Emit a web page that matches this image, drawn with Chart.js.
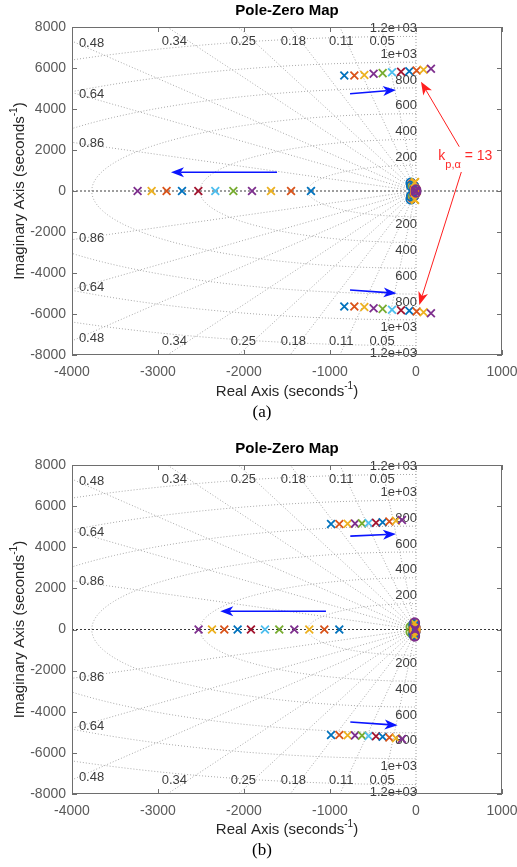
<!DOCTYPE html>
<html lang="en">
<head>
  <meta charset="UTF-8">
  <title>Pole-Zero Map</title>
  <script src="https://cdn.jsdelivr.net/npm/chart.js"></script>
  <style>
    body {
      margin: 0;
      background: #fff;
      width: 517px;
      height: 867px;
      overflow: hidden;
    }
    .panel {
      position: absolute;
      left: 0;
      width: 517px;
    }
    #panelA { top: 0; height: 438px; }
    #panelB { top: 438px; height: 429px; }
  </style>
</head>
<body>
  <div class="panel" id="panelA"><canvas id="chartA"></canvas></div>
  <div class="panel" id="panelB"><canvas id="chartB"></canvas></div>

  <script>
    // MATLAB default colour order, cycled over the 11 gain steps
    const lineColors = ['#0072BD', '#D95319', '#EDB120', '#7E2F8E', '#77AC30', '#4DBEEE', '#A2142F'];

    const xTicks = [-4000, -3000, -2000, -1000, 0, 1000];
    const yTicks = [-8000, -6000, -4000, -2000, 0, 2000, 4000, 6000, 8000];

    // damping / natural frequency grid
    const dampingValues = [0.05, 0.11, 0.18, 0.25, 0.34, 0.48, 0.64, 0.86];
    const dampingLabelX = [-395, -869, -1426, -2007, -2810, -3920, -3920, -3920];
    const dampingLabelY = [7317, 7317, 7317, 7317, 7317, 7210, 4710, 2335];
    const freqHz = [200, 400, 600, 800, 1000, 1200];
    const freqLabels = ['200', '400', '600', '800', '1e+03', '1.2e+03'];

    // (a) poles per gain step
    const realPoleA = [-1221, -1453, -1686, -1907, -2124, -2334, -2531, -2721, -2900, -3074, -3237];
    const cplxPoleReA = [-834, -717, -601, -493, -388, -279, -174, -78, 7, 88, 174];
    const cplxPoleImA = [5630, 5635, 5660, 5715, 5750, 5795, 5815, 5845, 5880, 5910, 5960];
    const nearPoleReA = [-20, -15, -10, -15, -10, -8, -5, -20, 0, -15, -5];
    const nearPoleImA = [120, 100, 440, 80, 60, 50, 40, 200, 30, 420, 20];
    const nearZeroReA = [-60, -45, -35, -25, -30, -20, -15, -55, -10, -5, 0];
    const nearZeroImA = [400, 330, 280, 230, 180, 150, 120, 250, 100, 80, 60];

    // (b) poles per gain step
    const realPoleB = [-892, -1066, -1241, -1415, -1590, -1756, -1919, -2074, -2229, -2372, -2528];
    const cplxPoleReB = [-988, -892, -795, -709, -628, -551, -465, -388, -310, -233, -163];
    const cplxPoleImB = [5130, 5135, 5140, 5150, 5160, 5175, 5195, 5215, 5250, 5290, 5330];
    const nearPoleReB = [-10, -5, -15, -5, -40, 0, -5, -10, 0, -20, -10];
    const nearPoleImB = [60, 50, 300, 40, 30, 20, 10, 80, 10, 320, 30];
    const nearZeroReB = [-30, -25, -20, -15, -60, -10, -10, -25, -20, -10, -15];
    const nearZeroImB = [250, 200, 180, 300, 120, 100, 80, 220, 60, 40, 330];

    const sansFont = "'Liberation Sans', Arial, sans-serif";

    function buildDatasets(realPole, cRe, cIm, pRe, pIm, zRe, zIm) {
      const sets = [];
      realPole.forEach((rp, i) => {
        const c = lineColors[i % lineColors.length];
        sets.push({
          label: 'poles ' + (i + 1),
          data: [
            { x: rp, y: 0 },
            { x: cRe[i], y: cIm[i] }, { x: cRe[i], y: -cIm[i] },
            { x: pRe[i], y: pIm[i] }, { x: pRe[i], y: -pIm[i] }
          ],
          pointStyle: 'crossRot',
          pointRadius: 5.5,
          pointBorderWidth: 1.8,
          borderColor: c,
          backgroundColor: c,
          order: 100 - 2 * i
        });
        sets.push({
          label: 'zeros ' + (i + 1),
          data: [{ x: zRe[i], y: zIm[i] }, { x: zRe[i], y: -zIm[i] }],
          pointStyle: 'circle',
          pointRadius: 4.5,
          pointBorderWidth: 1.8,
          borderColor: c,
          backgroundColor: 'rgba(0,0,0,0)',
          order: 99 - 2 * i
        });
      });
      return sets;
    }

    function drawArrow(ctx, x0, y0, x1, y1, color, width) {
      const ang = Math.atan2(y1 - y0, x1 - x0);
      const len = 13, half = 5, back = 3.5;
      ctx.save();
      ctx.strokeStyle = color;
      ctx.fillStyle = color;
      ctx.lineWidth = width;
      ctx.beginPath();
      ctx.moveTo(x0, y0);
      ctx.lineTo(x1 - (len - back) * Math.cos(ang), y1 - (len - back) * Math.sin(ang));
      ctx.stroke();
      ctx.translate(x1, y1);
      ctx.rotate(ang);
      ctx.beginPath();
      ctx.moveTo(0, 0);
      ctx.lineTo(-len, -half);
      ctx.lineTo(-len + back, 0);
      ctx.lineTo(-len, half);
      ctx.closePath();
      ctx.fill();
      ctx.restore();
    }

    // text with a raised or lowered part, e.g. seconds^-1 or k_p
    function drawScripted(ctx, parts, x, y, align) {
      let total = 0;
      parts.forEach(p => { ctx.font = p.font; total += ctx.measureText(p.text).width; });
      let cx = align === 'center' ? x - total / 2 : x;
      ctx.textAlign = 'left';
      parts.forEach(p => {
        ctx.font = p.font;
        ctx.fillText(p.text, cx, y + (p.dy || 0));
        cx += ctx.measureText(p.text).width;
      });
    }

    const pzDecor = {
      id: 'pzDecor',
      beforeDatasetsDraw(chart) {
        const { ctx, chartArea: a, scales: { x, y } } = chart;
        const px = v => x.getPixelForValue(v);
        const py = v => y.getPixelForValue(v);
        ctx.save();
        ctx.beginPath();
        ctx.rect(a.left, a.top, a.width, a.height);
        ctx.clip();
        ctx.lineWidth = 1;
        ctx.strokeStyle = '#a8a8a8';
        ctx.setLineDash([1, 2]);

        dampingValues.forEach(z => {
          const w = Math.sqrt(1 - z * z);
          [1, -1].forEach(s => {
            ctx.beginPath();
            ctx.moveTo(px(0), py(0));
            ctx.lineTo(px(-20000 * z), py(s * 20000 * w));
            ctx.stroke();
          });
        });

        freqHz.forEach(f => {
          const r = 2 * Math.PI * f;
          ctx.beginPath();
          for (let k = 0; k <= 240; k++) {
            const t = Math.PI / 2 + Math.PI * k / 240;
            const X = px(r * Math.cos(t)), Y = py(r * Math.sin(t));
            if (k) ctx.lineTo(X, Y); else ctx.moveTo(X, Y);
          }
          ctx.stroke();
        });

        ctx.strokeStyle = '#9a9a9a';
        ctx.beginPath();
        ctx.moveTo(px(0), a.top);
        ctx.lineTo(px(0), a.bottom);
        ctx.stroke();

        ctx.strokeStyle = '#3a3a3a';
        ctx.setLineDash([2, 2]);
        ctx.beginPath();
        ctx.moveTo(a.left, py(0));
        ctx.lineTo(a.right, py(0));
        ctx.stroke();
        ctx.restore();

        // grid labels
        ctx.save();
        ctx.fillStyle = '#3c3c3c';
        ctx.font = '13px ' + sansFont;
        ctx.textBaseline = 'middle';
        dampingValues.forEach((z, i) => {
          ctx.textAlign = dampingLabelX[i] <= -3900 ? 'left' : 'center';
          ctx.fillText(String(z), px(dampingLabelX[i]), py(dampingLabelY[i]));
          ctx.fillText(String(z), px(dampingLabelX[i]), py(-dampingLabelY[i]));
        });
        ctx.textAlign = 'right';
        freqHz.forEach((f, i) => {
          const r = 2 * Math.PI * f;
          ctx.fillText(freqLabels[i], px(0) + 1, py(r) - 8);
          ctx.fillText(freqLabels[i], px(0) + 1, py(-r) + 8);
        });
        ctx.restore();
      },
      afterDatasetsDraw(chart, args, opts) {
        const { ctx, scales: { x, y } } = chart;
        (opts.arrows || []).forEach(ar => {
          drawArrow(ctx, x.getPixelForValue(ar.from[0]), y.getPixelForValue(ar.from[1]),
            x.getPixelForValue(ar.to[0]), y.getPixelForValue(ar.to[1]), ar.color, ar.width);
        });
        if (opts.note) {
          const n = opts.note;
          ctx.save();
          ctx.fillStyle = '#ff2a2a';
          ctx.textBaseline = 'alphabetic';
          drawScripted(ctx, [
            { text: 'k', font: '14px ' + sansFont },
            { text: 'p,α', font: '11px ' + sansFont, dy: 8 },
            { text: ' = 13', font: '14px ' + sansFont }
          ], x.getPixelForValue(n.at[0]), y.getPixelForValue(n.at[1]), 'left');
          ctx.restore();
        }
      },
      afterDraw(chart, args, opts) {
        const { ctx, chartArea: a, scales: { x, y } } = chart;
        ctx.save();
        ctx.strokeStyle = '#6e6e6e';
        ctx.lineWidth = 1;
        ctx.strokeRect(a.left + 0.5, a.top + 0.5, a.width - 1, a.height - 1);
        ctx.beginPath();
        xTicks.forEach(v => {
          const X = Math.round(x.getPixelForValue(v)) + 0.5;
          ctx.moveTo(X, a.bottom); ctx.lineTo(X, a.bottom - 5);
          ctx.moveTo(X, a.top); ctx.lineTo(X, a.top + 5);
        });
        yTicks.forEach(v => {
          const Y = Math.round(y.getPixelForValue(v)) + 0.5;
          ctx.moveTo(a.left, Y); ctx.lineTo(a.left + 5, Y);
          ctx.moveTo(a.right, Y); ctx.lineTo(a.right - 5, Y);
        });
        ctx.stroke();

        const midX = (a.left + a.right) / 2;
        ctx.fillStyle = '#000';
        ctx.font = 'bold 15px ' + sansFont;
        ctx.textAlign = 'center';
        ctx.textBaseline = 'middle';
        ctx.fillText('Pole-Zero Map', midX, 11);

        ctx.fillStyle = '#262626';
        ctx.textBaseline = 'middle';
        drawScripted(ctx, [
          { text: 'Real Axis (seconds', font: '15px ' + sansFont },
          { text: '-1', font: '10px ' + sansFont, dy: -6 },
          { text: ')', font: '15px ' + sansFont }
        ], midX, 392, 'center');

        ctx.save();
        ctx.translate(20, (a.top + a.bottom) / 2);
        ctx.rotate(-Math.PI / 2);
        drawScripted(ctx, [
          { text: 'Imaginary Axis (seconds', font: '15px ' + sansFont },
          { text: '-1', font: '10px ' + sansFont, dy: -6 },
          { text: ')', font: '15px ' + sansFont }
        ], 0, 0, 'center');
        ctx.restore();

        ctx.fillStyle = '#000';
        ctx.font = "17px 'Liberation Serif', 'Times New Roman', serif";
        ctx.textAlign = 'center';
        ctx.fillText(opts.caption, 262, 413);
        ctx.restore();
      }
    };

    function makeOptions(xAxisHeight, decor) {
      return {
        responsive: true,
        maintainAspectRatio: false,
        animation: false,
        events: [],
        layout: { padding: { top: 27, right: 15, left: 0, bottom: 0 } },
        plugins: {
          legend: { display: false },
          tooltip: { enabled: false },
          title: { display: false },
          pzDecor: decor
        },
        scales: {
          x: {
            type: 'linear',
            min: -4000,
            max: 1000,
            grid: { display: false, drawTicks: false },
            border: { display: false },
            afterBuildTicks: s => { s.ticks = xTicks.map(v => ({ value: v })); },
            afterFit: s => {
              s.height = xAxisHeight;
              s.paddingLeft = s.paddingRight = 0;
            },
            ticks: {
              autoSkip: false,
              maxRotation: 0,
              padding: 9,
              color: '#5a5a5a',
              font: { family: sansFont, size: 14 },
              callback: v => String(v)
            }
          },
          y: {
            type: 'linear',
            min: -8000,
            max: 8000,
            grid: { display: false, drawTicks: false },
            border: { display: false },
            afterBuildTicks: s => { s.ticks = yTicks.map(v => ({ value: v })); },
            afterFit: s => {
              s.width = 72;
              s.paddingTop = s.paddingBottom = 0;
            },
            ticks: {
              autoSkip: false,
              padding: 6,
              color: '#5a5a5a',
              font: { family: sansFont, size: 14 },
              callback: v => String(v)
            }
          }
        }
      };
    }

    const blue = '#0a14ff';
    const red = '#ff1f1f';

    new Chart(document.getElementById('chartA'), {
      type: 'scatter',
      data: { datasets: buildDatasets(realPoleA, cplxPoleReA, cplxPoleImA, nearPoleReA, nearPoleImA, nearZeroReA, nearZeroImA) },
      options: makeOptions(83, {
        caption: '(a)',
        arrows: [
          { from: [-767, 4746], to: [-233, 4927], color: blue, width: 1.6 },
          { from: [-1616, 912], to: [-2849, 912], color: blue, width: 1.6 },
          { from: [-767, -4829], to: [-226, -4990], color: blue, width: 1.6 },
          { from: [503, 2161], to: [58, 5332], color: red, width: 1 },
          { from: [527, 927], to: [38, -5561], color: red, width: 1 }
        ],
        note: { at: [259, 1512] }
      }),
      plugins: [pzDecor]
    });

    new Chart(document.getElementById('chartB'), {
      type: 'scatter',
      data: { datasets: buildDatasets(realPoleB, cplxPoleReB, cplxPoleImB, nearPoleReB, nearPoleImB, nearZeroReB, nearZeroImB) },
      options: makeOptions(73, {
        caption: '(b)',
        arrows: [
          { from: [-764, 4542], to: [-233, 4640], color: blue, width: 1.6 },
          { from: [-1047, 891], to: [-2276, 891], color: blue, width: 1.6 },
          { from: [-764, -4499], to: [-214, -4659], color: blue, width: 1.6 }
        ]
      }),
      plugins: [pzDecor]
    });
  </script>
</body>
</html>
